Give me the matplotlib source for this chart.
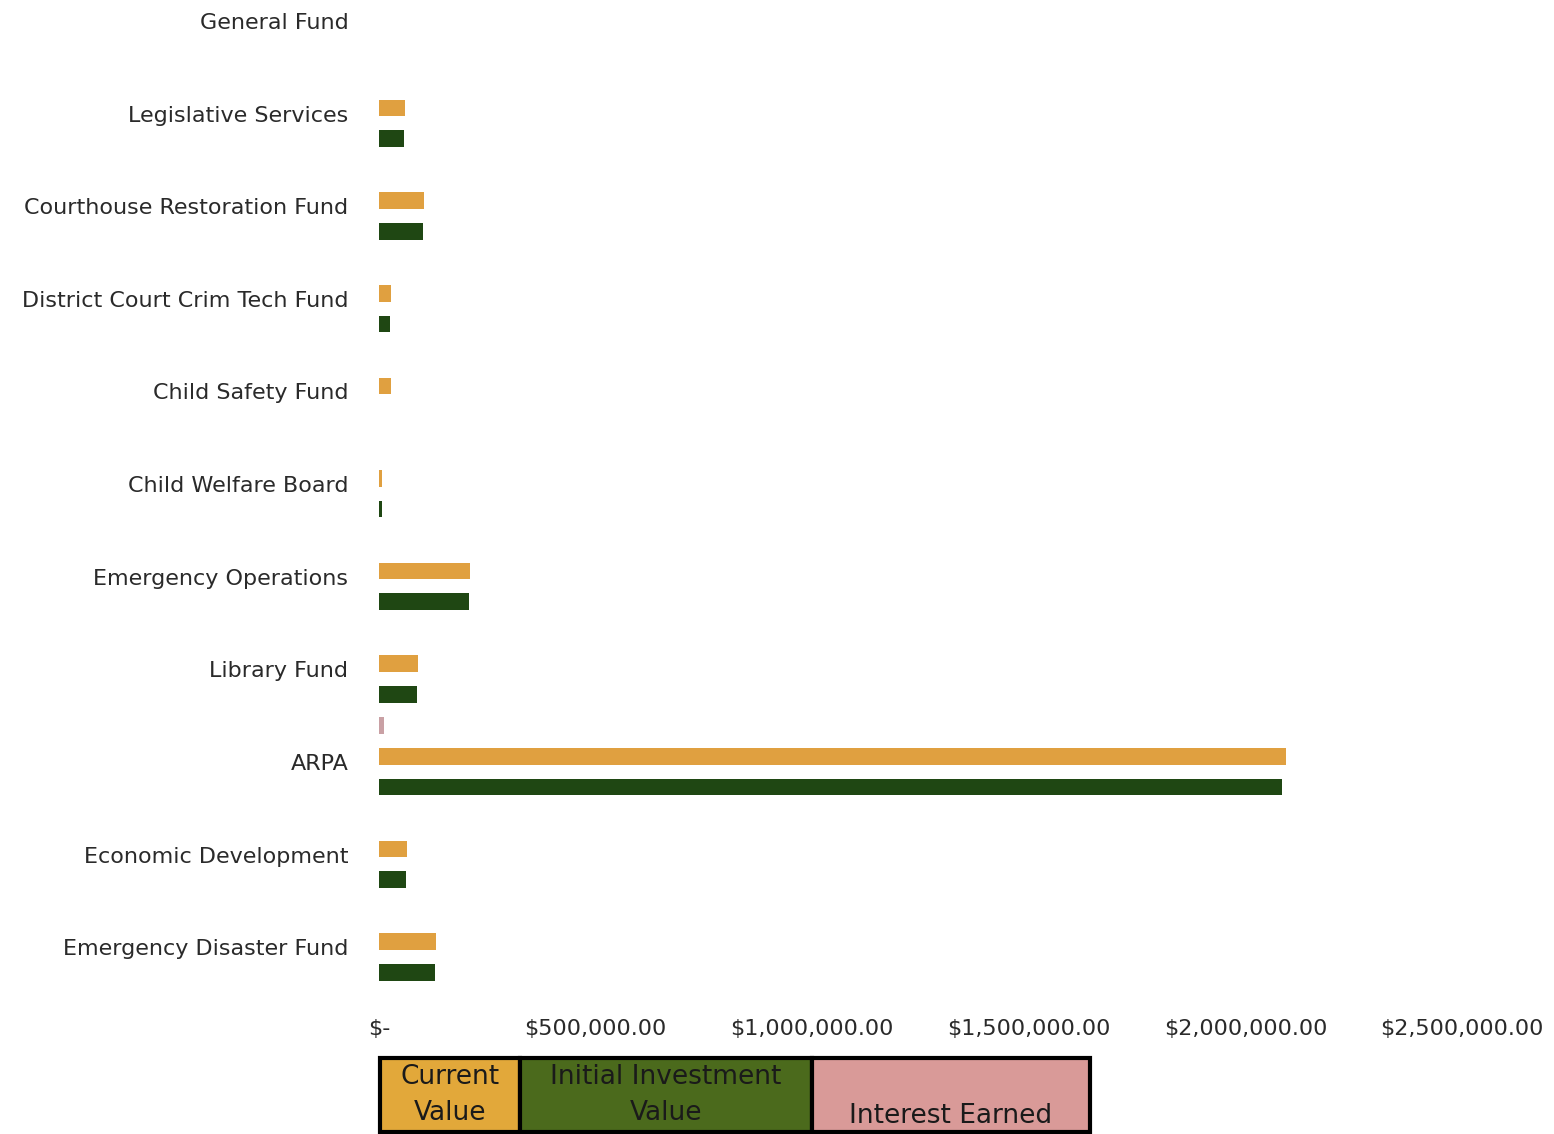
import matplotlib
matplotlib.use('Agg')
import matplotlib.pyplot as plt
from matplotlib.patches import Rectangle
from matplotlib.ticker import FuncFormatter

FUNDS = [
    "General Fund", "Legislative Services", "Courthouse Restoration Fund",
    "District Court Crim Tech Fund", "Child Safety Fund", "Child Welfare Board",
    "Emergency Operations", "Library Fund", "ARPA", "Economic Development",
    "Emergency Disaster Fund",
]
# values (dollars)
CURRENT_VALUE = [0, 60000, 104000, 28000, 27000, 7000, 210000, 90000, 2094000, 65000, 131000]
INITIAL_VALUE = [0, 57000, 101000, 25000, 0, 6000, 207000, 87000, 2085000, 62000, 129000]
INTEREST_EARNED = [0, 0, 0, 0, 0, 0, 0, 0, 12000, 0, 0]

SERIES = ["Current\nValue", "Initial Investment\nValue", "Interest Earned"]
X_TICKS = [0, 500000, 1000000, 1500000, 2000000, 2500000]

ORANGE = "#e0a040"
GREEN = "#1f4713"
PINK = "#c9a0a4"

fig = plt.figure(figsize=(15.54, 11.34), dpi=100)
ax = fig.add_axes([0.2439, 0.1182, 0.6969, 0.8818])

ypos = list(range(len(FUNDS)))
off = 0.33
shift = -0.06   # bars sit a little above the label centre
h = 0.18
ax.barh([y - off + shift for y in ypos], INTEREST_EARNED, height=h, color=PINK, zorder=2)
ax.barh([y + shift for y in ypos], CURRENT_VALUE, height=h, color=ORANGE, zorder=2)
ax.barh([y + off + shift for y in ypos], INITIAL_VALUE, height=h, color=GREEN, zorder=2)

ax.set_xlim(0, 2500000)
ax.set_ylim(10.57, -0.227)
ax.set_yticks(ypos)
ax.set_yticklabels(FUNDS, fontsize=16, color="#2a2a2a")
ax.set_xticks(X_TICKS)
ax.xaxis.set_major_formatter(FuncFormatter(
    lambda v, p: "$-" if v == 0 else f"${v:,.2f}"))
ax.tick_params(axis='x', labelsize=16, colors="#2a2a2a", length=0, pad=14)
ax.tick_params(axis='y', length=0, pad=22)
for s in ax.spines.values():
    s.set_visible(False)

# boxed legend under the axis
boxes = [(380, 520, "#e2a83a"), (520, 812, "#4b6a1c"), (812, 1090, "#d99a98")]
W, H = 1554, 1134
for (x0, x1, c), label in zip(boxes, SERIES):
    fig.patches.append(Rectangle((x0 / W, 1 - 1132 / H), (x1 - x0) / W, 74 / H,
                                 transform=fig.transFigure, facecolor=c,
                                 edgecolor="black", linewidth=3))
    ty = 1 - 1095 / H if "\n" in label else 1 - 1116 / H
    fig.text((x0 + x1) / 2 / W, ty, label, ha='center', va='center',
             fontsize=19, color="#1a1a1a", linespacing=1.45)

fig.savefig("out.png", dpi=100)
